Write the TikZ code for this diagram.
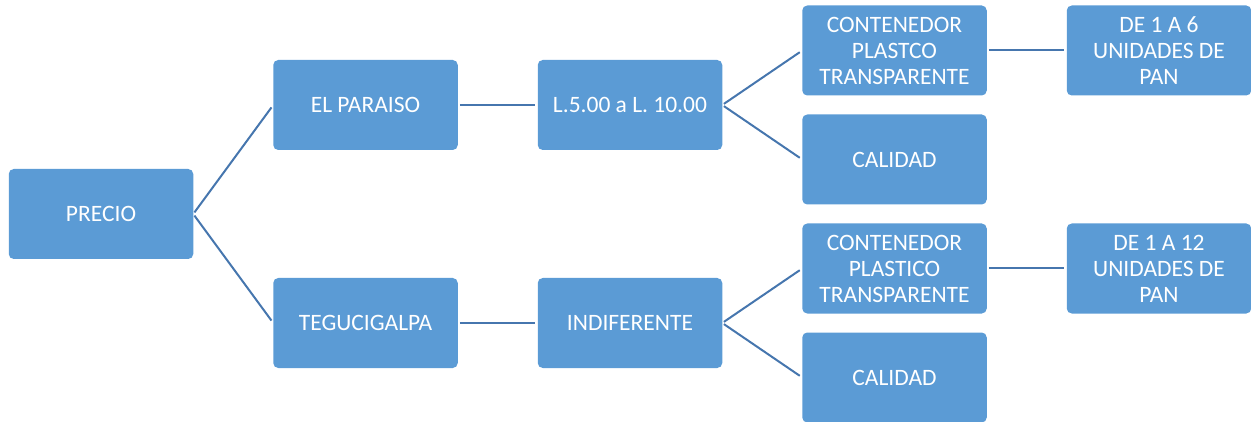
\documentclass[tikz,border=0pt]{standalone}
\usepackage{fontspec}
\setmainfont{Carlito}
\usepackage{tikz}
\usetikzlibrary{positioning}
\definecolor{boxblue}{HTML}{5B9BD5}
\definecolor{lineblue}{HTML}{4676AE}
\tikzset{
  box/.style={fill=boxblue,rounded corners=5pt,align=center,text=white,
    minimum width=184.5pt,minimum height=90pt,inner sep=0pt,outer sep=0pt,
    font=\fontsize{23.5}{26}\selectfont},
  link/.style={draw=lineblue,line width=2pt,shorten <=2pt,shorten >=3pt}
}
\begin{document}
\begin{tikzpicture}[x=1pt,y=-1pt]
\useasboundingbox (0,0) rectangle (1251,422);
\node[box] (precio) at (101,214) {PRECIO};
\node[box, above right=19pt and 80pt of precio] (paraiso) {EL PARAISO};
\node[box, below right=19pt and 80pt of precio] (tegus) {TEGUCIGALPA};
\node[box, right=80pt of paraiso] (rango) {L.5.00 a L. 10.00};
\node[box, right=80pt of tegus] (indif) {INDIFERENTE};
\node[box, right=80pt of rango, yshift=54.5pt] (cont1) {CONTENEDOR\\PLASTCO\\TRANSPARENTE};
\node[box, right=80pt of rango, yshift=-54.5pt] (cal1) {CALIDAD};
\node[box, right=80pt of indif, yshift=54.5pt] (cont2) {CONTENEDOR\\PLASTICO\\TRANSPARENTE};
\node[box, right=80pt of indif, yshift=-54.5pt] (cal2) {CALIDAD};
\node[box, right=80pt of cont1] (pan1) {DE 1 A 6\\UNIDADES DE\\PAN};
\node[box, right=80pt of cont2] (pan2) {DE 1 A 12\\UNIDADES DE\\PAN};
% branches
\draw[link] (precio.east) -- (paraiso.west);
\draw[link] (precio.east) -- (tegus.west);
\draw[link] (paraiso) -- (rango);
\draw[link] (tegus) -- (indif);
\draw[link] (rango.east) -- (cont1.west);
\draw[link] (rango.east) -- (cal1.west);
\draw[link] (indif.east) -- (cont2.west);
\draw[link] (indif.east) -- (cal2.west);
\draw[link] (cont1) -- (pan1);
\draw[link] (cont2) -- (pan2);
\end{tikzpicture}
\end{document}
